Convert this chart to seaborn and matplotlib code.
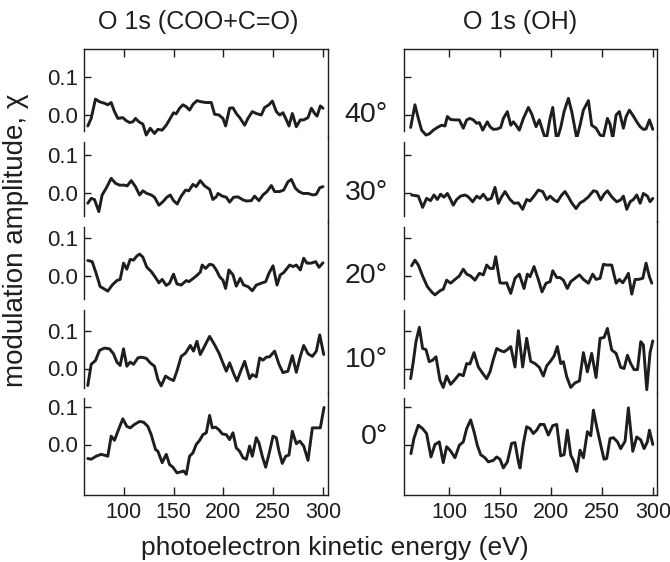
import matplotlib
matplotlib.use("Agg")
import matplotlib.pyplot as plt
import seaborn as sns

# ---------------- data ----------------
angles = ["40°", "30°", "20°", "10°", "0°"]
col_titles = ["O 1s (COO+C=O)", "O 1s (OH)"]
x_ticks = [100, 150, 200, 250, 300]
y_ticks = [0.0, 0.1]
y_ticklabels = ["0.0", "0.1"]

coo_40_e = [63.8, 67.2, 71.5, 75.6, 80.6, 83.9, 87.3, 90.6, 94.0, 99.0, 102.4, 105.7, 109.1, 111.7, 115.1, 119.1, 122.5, 126.5, 130.8, 134.2,
            138.5, 142.6, 146.6, 149.9, 152.6, 156.0, 159.3, 162.6, 166.0, 169.4, 173.4, 177.7, 182.8, 187.8, 191.1, 195.5, 199.5, 202.2, 206.2, 209.6,
            212.9, 216.9, 221.3, 224.6, 229.0, 233.0, 238.0, 241.4, 245.7, 249.1, 253.1, 256.5, 259.8, 263.2, 265.8, 269.2, 273.2, 277.2, 280.6, 284.9,
            288.3, 291.6, 294.0, 297.3, 300.0]
coo_40_chi = [-0.029, -0.009, 0.042, 0.035, 0.031, 0.027, 0.033, 0.009, -0.009, -0.007, -0.015, -0.020, -0.018, -0.009, -0.018, -0.024, -0.053, -0.035, -0.049, -0.038,
              -0.040, -0.027, -0.009, 0.006, 0.003, 0.018, 0.027, 0.022, 0.013, 0.028, 0.038, 0.035, 0.033, 0.033, 0.002, 0.000, -0.009, -0.029, 0.018, 0.019,
              0.004, -0.009, -0.027, -0.009, 0.009, 0.004, 0.000, 0.020, 0.027, 0.037, 0.009, 0.000, 0.006, -0.013, -0.029, 0.004, -0.031, -0.013, -0.013, -0.007,
              0.018, 0.004, -0.003, 0.024, 0.018]

coo_30_e = [63.8, 67.2, 70.5, 74.9, 78.2, 82.3, 87.3, 91.6, 95.7, 100.7, 103.4, 107.4, 111.7, 115.8, 119.1, 123.1, 127.5, 130.8, 135.2, 139.2,
            143.2, 146.6, 149.9, 153.6, 157.6, 162.0, 165.3, 169.4, 172.7, 176.7, 181.1, 186.1, 189.4, 192.8, 194.5, 198.8, 202.9, 206.2, 210.2, 214.6,
            219.6, 223.0, 228.0, 231.3, 235.7, 239.7, 243.7, 248.1, 251.4, 256.5, 260.5, 264.8, 268.2, 272.2, 275.9, 279.9, 284.9, 290.0, 293.3, 296.7,
            300.0]
coo_30_chi = [-0.028, -0.015, -0.018, -0.050, -0.006, 0.012, 0.038, 0.025, 0.020, 0.020, 0.018, 0.032, 0.016, -0.006, 0.005, -0.002, -0.006, -0.012, -0.033, -0.024,
              -0.012, -0.006, -0.021, -0.030, -0.009, 0.007, 0.005, 0.022, 0.016, 0.032, 0.018, 0.009, -0.018, -0.011, -0.002, -0.009, -0.012, -0.025, -0.012, -0.011,
              -0.019, -0.022, -0.021, -0.009, -0.021, -0.006, 0.003, 0.019, 0.003, 0.003, 0.007, 0.029, 0.035, 0.012, 0.003, -0.002, -0.002, -0.006, -0.004, 0.013,
              0.016]

coo_20_e = [63.8, 68.2, 72.2, 76.2, 79.6, 83.9, 88.3, 93.0, 96.3, 99.7, 103.0, 106.4, 109.7, 113.1, 115.8, 119.1, 123.1, 127.5, 131.8, 135.2,
            138.5, 142.6, 145.9, 149.9, 153.3, 157.6, 162.7, 165.3, 169.4, 172.7, 176.7, 178.7, 182.1, 186.1, 189.5, 192.8, 196.2, 199.5, 202.2, 205.5,
            209.6, 212.9, 216.9, 220.3, 224.6, 229.0, 233.0, 238.0, 242.4, 245.7, 249.8, 253.8, 257.1, 260.5, 263.8, 266.5, 269.9, 273.2, 277.2, 280.6,
            283.9, 288.3, 292.6, 296.0, 300.0]
coo_20_chi = [0.041, 0.038, 0.007, -0.028, -0.033, -0.040, -0.024, -0.012, -0.009, 0.034, 0.018, 0.044, 0.042, 0.053, 0.058, 0.050, 0.023, 0.012, -0.004, -0.018,
              -0.009, -0.025, -0.019, 0.005, -0.021, -0.024, -0.012, -0.015, -0.007, 0.000, 0.010, 0.029, 0.020, 0.031, 0.029, 0.016, -0.002, -0.011, -0.033, 0.016,
              0.003, -0.027, -0.006, -0.024, -0.028, -0.039, -0.024, -0.019, -0.015, 0.007, 0.027, -0.024, 0.003, 0.009, 0.020, 0.029, 0.025, 0.029, 0.016, 0.047,
              0.034, 0.034, 0.038, 0.023, 0.035]

coo_10_e = [63.8, 67.2, 71.5, 75.6, 80.6, 85.6, 89.6, 93.0, 96.3, 99.7, 103.0, 106.4, 109.7, 114.1, 117.4, 122.5, 126.5, 130.8, 134.2, 137.5,
            141.9, 145.9, 149.9, 153.3, 157.6, 162.0, 166.7, 170.0, 173.4, 176.7, 181.1, 186.1, 191.1, 195.5, 198.8, 202.9, 206.2, 210.2, 213.6, 217.9,
            221.3, 226.3, 229.0, 233.0, 236.4, 239.7, 243.1, 246.4, 251.4, 255.8, 259.8, 264.8, 269.2, 273.2, 277.2, 280.6, 284.9, 289.3, 293.3, 296.7,
            300.7]
coo_10_chi = [-0.045, 0.011, 0.021, 0.048, 0.054, 0.052, 0.039, 0.017, 0.008, 0.052, 0.006, 0.017, 0.011, 0.028, 0.030, 0.027, 0.015, 0.006, -0.029, -0.046,
              -0.020, -0.027, -0.032, -0.007, 0.032, 0.041, 0.061, 0.046, 0.072, 0.037, 0.059, 0.085, 0.063, 0.041, 0.019, -0.007, 0.015, -0.013, -0.033, -0.003,
              0.019, -0.027, -0.016, -0.022, 0.028, 0.022, 0.030, 0.031, 0.046, 0.011, -0.011, -0.007, 0.034, -0.010, 0.032, 0.061, 0.039, 0.032, 0.046, 0.089,
              0.037]

coo_0_e = [63.8, 67.2, 72.2, 77.2, 81.6, 83.9, 87.3, 90.6, 94.0, 99.0, 103.0, 106.4, 110.7, 115.8, 119.8, 124.1, 127.5, 131.8, 134.2, 138.5,
           142.6, 145.9, 149.3, 153.3, 157.6, 160.0, 162.7, 166.0, 169.4, 172.7, 176.1, 179.4, 182.8, 186.1, 188.8, 192.1, 195.5, 198.8, 202.9, 206.2,
           209.6, 212.9, 216.3, 219.6, 223.0, 226.3, 229.0, 233.0, 235.7, 239.0, 242.4, 245.7, 249.8, 253.1, 255.8, 259.1, 262.5, 265.8, 269.2, 273.2,
           276.6, 280.6, 284.9, 289.3, 293.3, 297.3, 301.0]
coo_0_chi = [-0.037, -0.039, -0.031, -0.026, -0.029, -0.031, 0.022, 0.011, 0.035, 0.068, 0.048, 0.044, 0.053, 0.061, 0.059, 0.048, 0.026, -0.013, -0.018, -0.048,
             -0.026, -0.053, -0.060, -0.075, -0.072, -0.070, -0.079, -0.031, -0.022, 0.000, 0.011, 0.026, 0.031, 0.077, 0.044, 0.046, 0.039, 0.028, 0.026, 0.013,
             0.031, -0.009, -0.018, -0.035, -0.039, -0.004, -0.031, 0.018, 0.004, -0.031, -0.060, -0.026, 0.022, 0.018, -0.018, -0.050, -0.031, -0.028, 0.035, 0.002,
             0.009, -0.004, -0.042, 0.044, 0.044, 0.044, 0.098]

oh_40_e = [62.5, 66.7, 70.0, 73.2, 77.5, 80.7, 84.7, 88.6, 92.8, 96.1, 98.4, 101.6, 105.9, 110.1, 114.0, 117.3, 120.5, 123.8, 127.1, 129.7,
           133.0, 137.5, 140.1, 143.4, 147.3, 150.6, 153.2, 157.1, 160.4, 163.0, 165.6, 168.8, 172.8, 177.7, 180.9, 185.2, 188.4, 191.7, 195.0, 198.9,
           201.5, 205.4, 209.3, 212.6, 216.8, 220.1, 225.0, 228.2, 231.5, 236.4, 239.6, 243.9, 247.8, 251.1, 255.0, 257.6, 260.2, 263.5, 266.7, 270.6,
           273.3, 276.5, 280.4, 283.7, 287.0, 290.2, 292.8, 296.1, 299.4]
oh_40_chi = [-0.033, 0.027, -0.009, -0.040, -0.053, -0.050, -0.040, -0.033, -0.027, -0.029, -0.004, -0.012, -0.013, -0.013, -0.035, -0.013, -0.009, -0.013, -0.022, -0.020,
             -0.040, -0.018, -0.031, -0.038, -0.037, -0.033, -0.009, 0.009, -0.027, -0.018, -0.027, -0.040, -0.009, 0.020, 0.003, -0.031, -0.013, -0.042, -0.068, -0.009,
             0.020, -0.068, -0.033, 0.009, 0.044, 0.009, -0.062, -0.027, 0.013, 0.038, -0.027, -0.035, -0.053, -0.056, -0.009, -0.024, -0.062, 0.000, 0.009, -0.035,
             -0.004, 0.013, -0.003, -0.018, -0.031, -0.038, -0.037, -0.013, -0.038]

oh_30_e = [63.4, 70.0, 74.2, 78.1, 82.0, 85.3, 88.6, 91.8, 95.1, 98.4, 101.0, 104.2, 107.5, 111.4, 115.7, 118.9, 123.2, 127.1, 130.3, 133.6,
           137.5, 141.4, 145.0, 148.3, 151.5, 154.8, 159.7, 163.6, 167.9, 172.1, 176.0, 179.3, 183.2, 187.4, 191.7, 195.6, 198.9, 202.8, 206.0, 210.3,
           213.5, 216.8, 220.1, 224.3, 228.2, 232.1, 236.4, 241.3, 244.5, 248.5, 251.7, 255.0, 259.2, 264.1, 268.0, 270.6, 273.9, 277.2, 280.4, 283.7,
           287.0, 290.2, 294.1, 296.7, 299.4]
oh_30_chi = [-0.006, -0.009, -0.039, -0.015, -0.021, -0.006, -0.018, -0.004, -0.012, -0.002, -0.015, -0.033, -0.018, -0.009, -0.006, -0.011, -0.024, -0.009, -0.015, -0.004,
             -0.019, -0.015, 0.014, -0.028, -0.011, 0.003, -0.018, -0.028, -0.027, -0.044, -0.018, -0.022, -0.009, 0.007, 0.003, -0.018, -0.009, -0.019, -0.024, -0.006,
             0.003, -0.011, -0.027, -0.042, -0.027, -0.021, -0.011, 0.005, 0.003, -0.019, -0.004, 0.005, -0.011, -0.024, -0.019, -0.009, -0.044, -0.024, -0.018, -0.006,
             -0.028, -0.002, -0.009, -0.024, -0.015]

oh_20_e = [63.4, 66.7, 70.0, 74.2, 78.8, 83.0, 86.3, 91.2, 94.4, 97.7, 101.6, 105.9, 110.1, 114.0, 117.3, 121.2, 125.4, 129.7, 133.6, 136.9,
           140.1, 143.4, 145.7, 149.9, 153.2, 156.4, 160.4, 164.6, 168.8, 173.4, 176.7, 179.3, 183.2, 187.4, 191.0, 195.0, 198.9, 201.5, 205.4, 208.6,
           211.9, 215.8, 219.1, 223.3, 227.6, 231.5, 236.4, 240.6, 243.9, 247.8, 251.1, 254.3, 259.2, 263.5, 266.7, 270.0, 273.3, 275.5, 278.8, 282.1,
           285.3, 289.6, 292.8, 296.1, 298.4]
oh_20_chi = [0.027, 0.042, 0.029, 0.000, -0.028, -0.042, -0.050, -0.039, -0.035, -0.011, -0.019, -0.009, 0.000, 0.018, 0.005, 0.000, -0.011, 0.007, 0.003, 0.029,
             0.020, 0.020, 0.051, -0.018, -0.019, -0.018, -0.046, -0.006, 0.005, -0.033, 0.005, -0.002, 0.025, -0.009, -0.042, -0.019, -0.015, 0.014, -0.004, -0.004,
             -0.011, -0.033, -0.015, -0.006, 0.003, -0.009, -0.019, 0.005, -0.009, -0.006, 0.031, 0.029, 0.029, -0.019, -0.009, -0.018, -0.004, 0.007, -0.048, -0.009,
             -0.009, -0.006, 0.034, -0.002, -0.019]

oh_10_e = [62.5, 65.1, 67.7, 71.0, 74.2, 77.5, 80.7, 84.0, 87.3, 91.2, 94.4, 97.7, 101.6, 105.9, 110.1, 114.0, 117.3, 120.5, 124.5, 128.7,
           133.0, 136.9, 140.1, 143.4, 146.7, 150.6, 153.8, 157.1, 160.4, 164.6, 167.9, 172.1, 176.0, 179.9, 184.2, 188.4, 192.3, 195.6, 199.5, 202.8,
           206.0, 209.3, 211.9, 215.2, 219.1, 223.3, 227.6, 231.5, 235.4, 239.6, 243.9, 247.8, 251.7, 255.0, 259.2, 263.5, 268.0, 271.3, 274.6, 277.8,
           281.1, 284.4, 287.6, 290.2, 293.5, 296.7, 299.4]
oh_10_chi = [-0.027, 0.018, 0.071, 0.109, 0.053, 0.050, 0.018, 0.022, 0.031, -0.031, -0.050, -0.020, -0.042, -0.029, -0.015, -0.019, 0.013, 0.012, 0.042, 0.004,
             -0.013, -0.027, -0.009, 0.024, 0.053, 0.047, 0.044, 0.050, 0.058, 0.004, 0.100, 0.004, 0.080, 0.019, 0.013, 0.003, -0.020, 0.007, 0.020, 0.033,
             0.058, 0.013, 0.018, -0.022, -0.050, -0.038, -0.033, 0.042, -0.009, 0.040, -0.024, 0.080, 0.082, 0.106, 0.049, 0.040, 0.003, 0.000, 0.035, 0.013,
             -0.003, -0.003, 0.071, 0.062, -0.056, 0.042, 0.073]

oh_0_e = [62.8, 65.7, 70.0, 74.2, 78.1, 82.4, 86.3, 90.5, 94.4, 97.7, 101.0, 105.9, 110.1, 114.0, 117.3, 121.2, 124.5, 127.7, 131.0, 135.2,
          138.5, 143.4, 146.7, 149.9, 153.2, 157.1, 161.3, 164.6, 167.9, 169.5, 172.8, 176.0, 179.3, 182.5, 185.8, 189.1, 193.0, 197.2, 201.5, 205.4,
          209.3, 212.6, 215.8, 219.1, 221.7, 225.0, 228.2, 231.5, 235.4, 238.7, 241.3, 244.5, 248.5, 251.7, 254.3, 257.6, 260.9, 264.8, 268.0, 272.3,
          275.5, 279.8, 283.7, 287.6, 290.9, 294.1, 296.1, 299.4]
oh_0_chi = [-0.024, 0.016, 0.051, 0.042, 0.029, -0.033, 0.000, 0.007, -0.048, -0.006, -0.015, -0.035, -0.002, 0.007, 0.042, 0.065, 0.034, -0.002, -0.027, -0.035,
            -0.046, -0.042, -0.033, -0.039, -0.062, -0.046, 0.003, 0.005, -0.046, -0.062, 0.003, 0.047, 0.042, 0.029, 0.038, 0.053, 0.053, 0.025, 0.050, 0.053,
            -0.030, -0.027, 0.038, -0.028, -0.042, -0.071, -0.015, -0.035, 0.034, 0.023, 0.091, 0.047, -0.002, -0.039, -0.037, 0.016, 0.018, 0.007, -0.011, 0.009,
            0.097, -0.018, 0.020, 0.012, -0.011, 0.007, 0.038, 0.000]

coo_e = [coo_40_e, coo_30_e, coo_20_e, coo_10_e, coo_0_e]
coo_chi = [coo_40_chi, coo_30_chi, coo_20_chi, coo_10_chi, coo_0_chi]
oh_e = [oh_40_e, oh_30_e, oh_20_e, oh_10_e, oh_0_e]
oh_chi = [oh_40_chi, oh_30_chi, oh_20_chi, oh_10_chi, oh_0_chi]

# ---------------- layout (pixels) ----------------
W, H = 670, 562
col_px = [(84, 328), (404, 657)]
col_xlim = [(60, 305), (56, 303.5)]
panel_edges = [49, 136.5, 221.5, 304.5, 393, 495]
zero_px = [115, 192.7, 276, 368.5, 444.5]
spine_px = [(49, 131), (142, 216), (227, 299), (310, 388), (398, 495)]
angle_dy = [0.0, 0.0, 0.0, 0.022, 0.02]
title_dx = [-8, -10]
scale = 378.0  # px per chi unit
ink = '#1e1e1e'

sns.set_theme(style="white")
plt.rcParams['font.family'] = ['Liberation Sans', 'DejaVu Sans']
plt.rcParams['axes.edgecolor'] = ink
plt.rcParams['axes.linewidth'] = 1.0

fig = plt.figure(figsize=(W / 100, H / 100), dpi=100)

for c, (energies, chis) in enumerate([(coo_e, coo_chi), (oh_e, oh_chi)]):
    x0, x1 = col_px[c]
    for i in range(5):
        pt, pb = panel_edges[i], panel_edges[i + 1]
        z = zero_px[i]
        ax = fig.add_axes([x0 / W, 1 - pb / H, (x1 - x0) / W, (pb - pt) / H])
        ax.set_facecolor('none')
        sns.lineplot(x=energies[i], y=chis[i], ax=ax, color=ink, lw=2.1,
                     estimator=None, sort=False)
        ax.set_xlim(*col_xlim[c])
        ax.set_ylim((z - pb) / scale, (z - pt) / scale)
        ax.set_xlabel('')
        ax.set_ylabel('')
        st, sb = spine_px[i]
        ax.spines['left'].set_bounds((z - sb) / scale, (z - st) / scale)
        ax.spines['top'].set_visible(i == 0)
        ax.spines['bottom'].set_visible(i == 4)
        ax.spines['right'].set_visible(True)
        ax.set_xticks(x_ticks)
        ax.tick_params(axis='x', direction='in', length=6, width=1.0, color=ink,
                       top=(i == 0), bottom=(i == 4), labelbottom=(i == 4), labeltop=False,
                       labelsize=15.5, pad=5, labelcolor=ink)
        ax.set_yticks(y_ticks)
        ax.set_yticklabels(y_ticklabels)
        ax.tick_params(axis='y', direction='in', length=5, width=1.0, color=ink,
                       left=True, right=False, labelleft=(c == 0), labelsize=16, pad=4,
                       labelcolor=ink)
        if i == 0:
            ax.annotate(col_titles[c], xy=(0.5, 1), xycoords='axes fraction',
                        xytext=(title_dx[c], 27), textcoords='offset pixels',
                        ha='center', va='center', fontsize=18, color=ink)
        if c == 1:
            ax.annotate(angles[i], xy=(0, angle_dy[i]), xycoords=('axes fraction', 'data'),
                        xytext=(-16, 0), textcoords='offset pixels', ha='right', va='center',
                        fontsize=20.5, color=ink)

fig.text(16 / W, 1 - 240 / H, 'modulation amplitude, χ', rotation=90, ha='center', va='center',
         fontsize=20, color=ink)
fig.text(335 / W, 1 - 548 / H, 'photoelectron kinetic energy (eV)', ha='center', va='center',
         fontsize=19, color=ink)

fig.savefig('out.png', dpi=100)
